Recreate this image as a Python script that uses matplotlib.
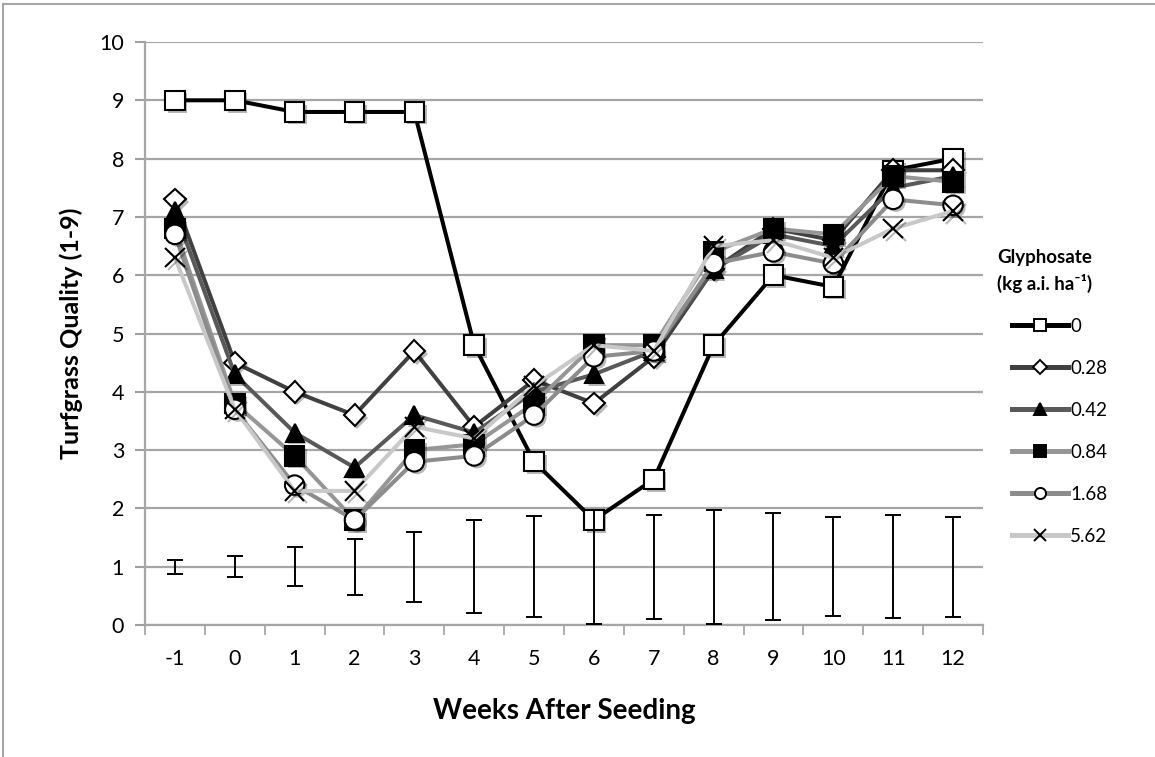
import matplotlib
matplotlib.use("Agg")
import matplotlib.pyplot as plt
import matplotlib.patheffects as pe
import numpy as np
from matplotlib.patches import Rectangle

weeks = ["-1", "0", "1", "2", "3", "4", "5", "6", "7", "8", "9", "10", "11", "12"]
rate_labels = ["0", "0.28", "0.42", "0.84", "1.68", "5.62"]
q_0    = [9.0, 9.0, 8.8, 8.8, 8.8, 4.8, 2.8, 1.8, 2.5, 4.8, 6.0, 5.8, 7.8, 8.0]
q_028  = [7.3, 4.5, 4.0, 3.6, 4.7, 3.4, 4.2, 3.8, 4.6, 6.1, 6.8, 6.6, 7.8, 7.8]
q_042  = [7.1, 4.3, 3.3, 2.7, 3.6, 3.3, 4.0, 4.3, 4.7, 6.1, 6.7, 6.5, 7.5, 7.7]
q_084  = [6.8, 3.8, 2.9, 1.8, 3.0, 3.1, 3.8, 4.8, 4.8, 6.4, 6.8, 6.7, 7.7, 7.6]
q_168  = [6.7, 3.7, 2.4, 1.8, 2.8, 2.9, 3.6, 4.6, 4.7, 6.2, 6.4, 6.2, 7.3, 7.2]
q_562  = [6.3, 3.7, 2.3, 2.3, 3.4, 3.2, 4.1, 4.8, 4.7, 6.5, 6.6, 6.3, 6.8, 7.1]
lsd_center = [1.0] * 14
lsd_half = [0.12, 0.18, 0.33, 0.48, 0.60, 0.80, 0.87, 0.98, 0.89, 0.98, 0.92, 0.85, 0.88, 0.86]

series = [q_0, q_028, q_042, q_084, q_168, q_562]
colors = ["#000000", "#404040", "#595959", "#969696", "#8c8c8c", "#c8c8c8"]
markers = ["s", "D", "^", "s", "o", "x"]
msizes = [14, 11, 13, 14, 14, 14]
legend_ms = [9, 7, 9, 9, 8, 9]
mfaces = ["white", "white", "black", "black", "white", "none"]

plt.rcParams["font.family"] = ["Lato", "DejaVu Sans"]

W, H = 1155, 757
fig = plt.figure(figsize=(W / 100, H / 100), dpi=100)
ax = fig.add_axes([145 / W, 1 - 625 / H, (983 - 145) / W, (625 - 42) / H])

# outer chart frame
fig.patches.append(Rectangle((3 / W, -0.1), 1.2, 1 - 4 / H + 0.1, transform=fig.transFigure,
                             fill=False, edgecolor="#a6a6a6", linewidth=1.5))

x = np.arange(len(weeks))
patch_shadow = [pe.SimplePatchShadow(offset=(2, -2), shadow_rgbFace="#000000", alpha=0.28), pe.Normal()]
line_shadow = [pe.SimpleLineShadow(offset=(2, -2), shadow_color="#000000", alpha=0.28), pe.Normal()]

handles = []
for i, (vals, c, m, ms, lms, mf, lab) in enumerate(
        zip(series, colors, markers, msizes, legend_ms, mfaces, rate_labels)):
    z = 3 + i * 0.1
    ax.plot(x, vals, color=c, lw=2.9, zorder=z, solid_joinstyle="miter")
    ax.plot(x, vals, linestyle="none", marker=m, markersize=ms,
            markerfacecolor=mf, markeredgecolor="black", markeredgewidth=1.5,
            zorder=z + 0.05, path_effects=line_shadow if m == "x" else patch_shadow)
    h, = ax.plot([], [], color=c, lw=3.6, marker=m, markersize=lms,
                 markerfacecolor=mf, markeredgecolor="black", markeredgewidth=1.4, label=lab)
    handles.append(h)

ax.errorbar(x, lsd_center, yerr=lsd_half, fmt="none", ecolor="black",
            elinewidth=1.4, capsize=6, capthick=1.4, zorder=5)

ax.set_xlim(-0.5, len(weeks) - 0.5)
ax.set_ylim(0, 10)
ax.set_yticks(range(0, 11))
ax.set_xticks(x)
ax.set_xticklabels(weeks)
ax.set_xticks(np.arange(-0.5, len(weeks), 1.0), minor=True)
ax.tick_params(axis="x", which="major", length=0, pad=17, labelsize=15.5)
ax.tick_params(axis="x", which="minor", length=7, width=1.2, color="#a0a0a0", direction="out")
ax.tick_params(axis="y", length=7, width=1.5, color="#a0a0a0", pad=8, labelsize=15.5)
ax.grid(axis="y", color="#a6a6a6", lw=1.6, zorder=0)
ax.set_axisbelow(True)
for s in ["top", "right"]:
    ax.spines[s].set_visible(False)
for s in ["left", "bottom"]:
    ax.spines[s].set_color("#a6a6a6")
    ax.spines[s].set_linewidth(1.6)

ax.set_ylabel("Turfgrass Quality (1-9)", fontsize=18, fontweight="bold", labelpad=12)
ax.set_xlabel("Weeks After Seeding", fontsize=20, fontweight="bold", labelpad=21)

leg = fig.legend(handles=handles, loc="upper left", bbox_to_anchor=(1012 / W, 1 - 318 / H),
                 frameon=False, fontsize=13.5, handlelength=3.0, handletextpad=0.1,
                 labelspacing=1.33, borderaxespad=0, borderpad=0)
fig.text(997 / W, 1 - 258 / H, "Glyphosate", fontsize=13.5,
         fontweight="bold", ha="left", va="center")
fig.text(997 / W, 1 - 283 / H, "(kg a.i. ha\u207b\u00b9)", fontsize=13.5,
         fontweight="bold", ha="left", va="center")

fig.savefig("out.png", dpi=100)
